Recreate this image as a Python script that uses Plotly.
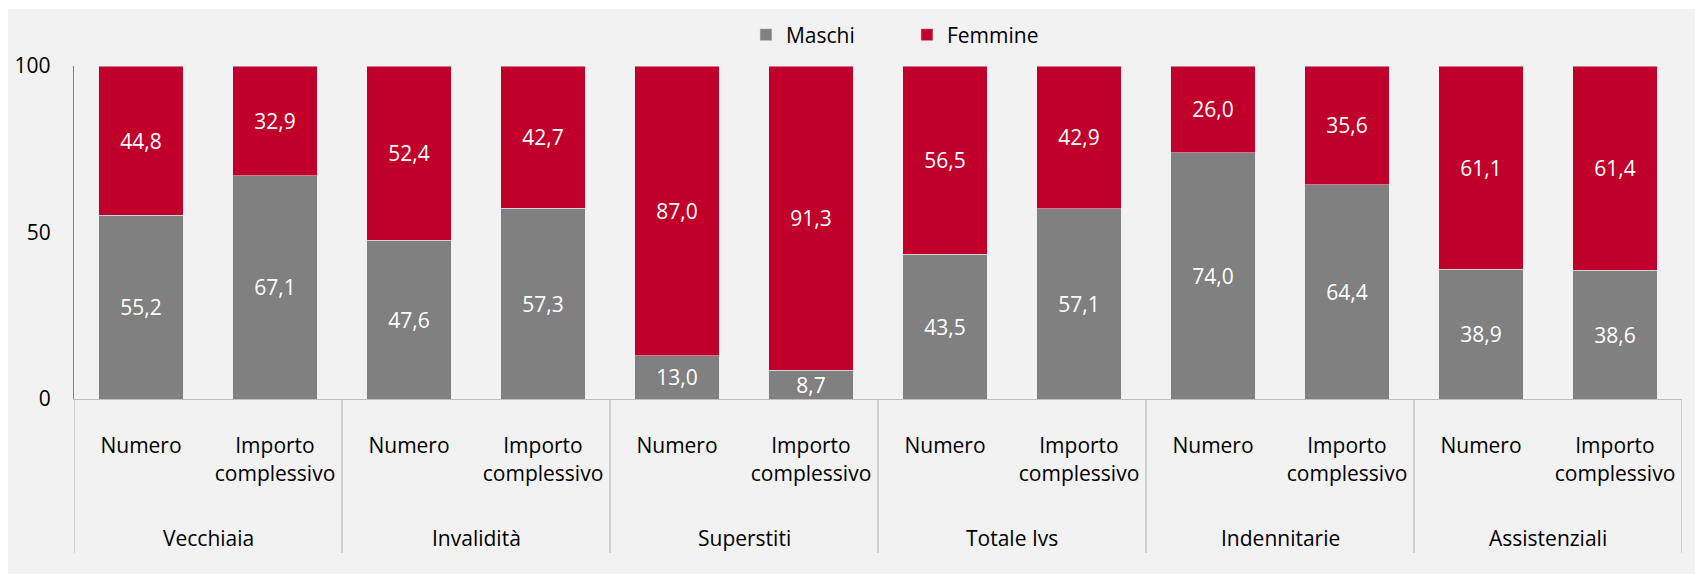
import plotly.graph_objects as go

groups = ["Vecchiaia", "Invalidità", "Superstiti", "Totale Ivs", "Indennitarie", "Assistenziali"]
subs = ["Numero", "Importo<br>complessivo"]
maschi = [55.2, 67.1, 47.6, 57.3, 13.0, 8.7, 43.5, 57.1, 74.0, 64.4, 38.9, 38.6]
femmine = [44.8, 32.9, 52.4, 42.7, 87.0, 91.3, 56.5, 42.9, 26.0, 35.6, 61.1, 61.4]
y_ticks = [0, 50, 100]

# page body has an 8px margin; compensate so the picture lands where the reference has it
O = 8
W, H = 1703 - O, 575 - O
L, R = 74 - O, 1703 - 1682
T = 66 - O
B = 575 - 399
pw, ph = W - L - R, H - T - B

FONT = "Open Sans"
FS = 21
GRAY = "#808080"
RED = "#C0002A"

n = len(maschi)
xs = list(range(n))
ticktext = [subs[i % 2] for i in range(n)]

fig = go.Figure()
fig.add_trace(go.Bar(x=xs, y=maschi, name="Maschi", marker_color=GRAY,
                     texttemplate="%{y:.1f}", textposition="inside", insidetextanchor="middle",
                     textangle=0, textfont=dict(color="white", size=FS, family=FONT),
                     constraintext="none"))
fig.add_trace(go.Bar(x=xs, y=femmine, name="Femmine", marker_color=RED,
                     texttemplate="%{y:.1f}", textposition="inside", insidetextanchor="middle",
                     textangle=0, textfont=dict(color="white", size=FS, family=FONT),
                     constraintext="none"))

def px2x(px):
    return (px - O - L) / pw
def py2y(py):
    return (H - B - (py - O)) / ph

shapes = []
shapes.append(dict(type="rect", xref="paper", yref="paper", layer="below",
                   x0=px2x(7), x1=px2x(1700), y0=py2y(574), y1=py2y(9),
                   fillcolor="#F2F2F2", line=dict(width=0)))
for k in range(len(groups) + 1):
    xv = 2 * k - 0.5
    shapes.append(dict(type="line", xref="x", yref="paper", x0=xv, x1=xv,
                       y0=0, y1=py2y(553), line=dict(color="#BFBFBF", width=1.3)))

annotations = []
for k, g in enumerate(groups):
    annotations.append(dict(x=2 * k + 0.5, y=py2y(538), xref="x", yref="paper",
                            text=g, showarrow=False, yanchor="middle", xanchor="center",
                            font=dict(family=FONT, size=FS, color="#000000")))

fig.update_layout(
    width=W, height=H,
    barmode="stack", bargap=0.37,
    separators=", ",
    paper_bgcolor="white", plot_bgcolor="rgba(0,0,0,0)",
    margin=dict(l=L, r=R, t=T, b=B, pad=0, autoexpand=False),
    font=dict(family=FONT, size=FS, color="#000000"),
    shapes=shapes, annotations=annotations,
    uniformtext=dict(mode="show", minsize=FS),
    legend=dict(orientation="h", traceorder="normal", x=0.518, xanchor="center",
                y=py2y(35), yanchor="middle",
                font=dict(family=FONT, size=FS, color="#000000"),
                bgcolor="rgba(0,0,0,0)", entrywidth=116, itemwidth=30),
    xaxis=dict(range=[-0.5, n - 0.5], tickvals=xs, ticktext=ticktext, ticks="",
               showline=True, linecolor="#BFBFBF", linewidth=1.3, showgrid=False,
               zeroline=False, ticklabelstandoff=28,
               tickfont=dict(family=FONT, size=FS, color="#000000")),
    yaxis=dict(range=[0, 100], tickvals=y_ticks, ticks="", showline=True,
               linecolor="#868686", linewidth=1.3, showgrid=False, zeroline=False,
               ticklabelstandoff=18, tickfont=dict(family=FONT, size=FS, color="#000000")),
)

fig.write_html("out.html")
